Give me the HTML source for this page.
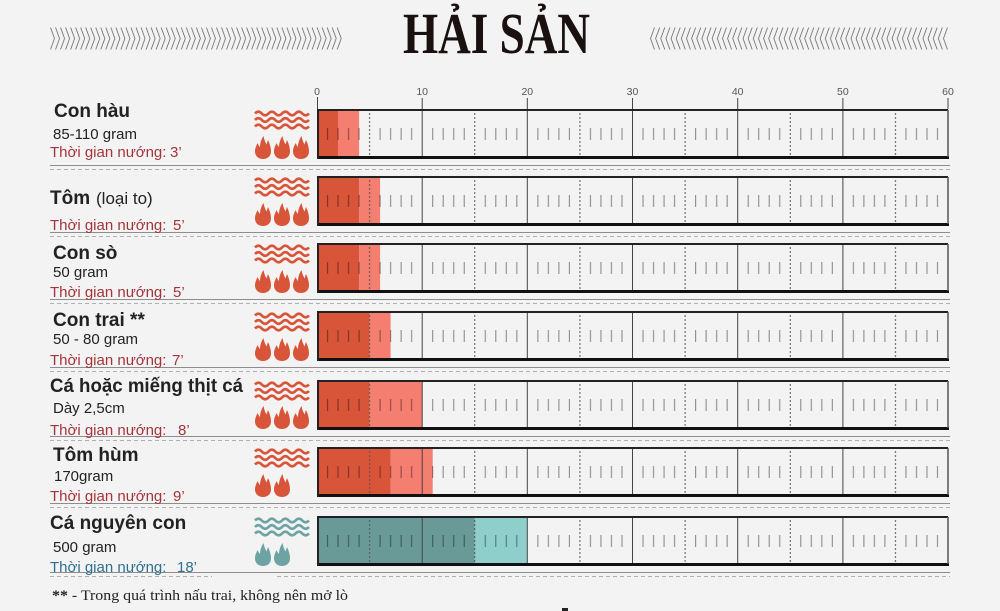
<!DOCTYPE html>
<html>
<head>
<meta charset="utf-8">
<style>
html,body{margin:0;padding:0;background:#f3f3f3;}
svg{display:block;}
.t{font-family:"Liberation Sans",sans-serif;font-weight:bold;font-size:19px;fill:#222;}
.s{font-family:"Liberation Sans",sans-serif;font-size:15px;fill:#222;}
.r{font-family:"Liberation Sans",sans-serif;font-size:15px;fill:#a3343c;}
.b{font-family:"Liberation Sans",sans-serif;font-size:15px;fill:#2f6f8f;}
.ax{font-family:"Liberation Sans",sans-serif;font-size:10.5px;fill:#555;}
</style>
</head>
<body>
<svg width="1000" height="611" viewBox="0 0 1000 611" xmlns="http://www.w3.org/2000/svg">
<defs>
<pattern id="chl" patternUnits="userSpaceOnUse" x="50" y="27" width="5.03" height="23">
<path d="M0.5,0.5L4.5,11.5L0.5,22.5" fill="none" stroke="#666" stroke-width="0.8"/>
</pattern>
<pattern id="chr" patternUnits="userSpaceOnUse" x="650" y="27" width="5.14" height="23">
<path d="M4.5,0.5L0.5,11.5L4.5,22.5" fill="none" stroke="#666" stroke-width="0.8"/>
</pattern>
<pattern id="tk" patternUnits="userSpaceOnUse" x="317" y="0" width="52.585" height="10">
<path d="M10.517,0V10M21.034,0V10M31.551,0V10M42.068,0V10" stroke="rgba(0,0,0,0.42)" stroke-width="1.1"/>
</pattern>
<pattern id="dl" patternUnits="userSpaceOnUse" x="317" y="0" width="105.17" height="4">
<path d="M52.585,0V2" stroke="#555" stroke-width="1"/>
</pattern>
</defs>

<rect x="0" y="0" width="1000" height="611" fill="#f3f3f3"/>

<!-- Header -->
<rect x="50" y="27" width="292" height="23" fill="url(#chl)"/>
<rect x="650" y="27" width="298" height="23" fill="url(#chr)"/>
<text x="403" y="53" font-family="'Liberation Serif',serif" font-weight="bold" font-size="58" fill="#1a1010" textLength="187" lengthAdjust="spacingAndGlyphs">HẢI SẢN</text>

<!-- Axis -->
<g class="ax" text-anchor="middle">
<text x="317" y="95">0</text>
<text x="422.2" y="95">10</text>
<text x="527.3" y="95">20</text>
<text x="632.5" y="95">30</text>
<text x="737.7" y="95">40</text>
<text x="842.9" y="95">50</text>
<text x="948" y="95">60</text>
</g>
<path d="M317.5,97V109M422.2,98V109M527.3,98V109M632.5,98V109M737.7,98V109M842.9,98V109M948,98V109" stroke="#444" stroke-width="1"/>

<!-- Row 1 -->
<g transform="translate(0,109)">
<rect x="317" y="0" width="21" height="50" fill="#d8553a"/>
<rect x="338" y="0" width="21.1" height="50" fill="#f47e70"/>
<rect x="317" y="19" width="631" height="12" fill="url(#tk)"/>
<rect x="317" y="2" width="631" height="46" fill="url(#dl)"/>
<path d="M422.2,0V50M527.3,0V50M632.5,0V50M737.7,0V50M842.9,0V50" stroke="#444" stroke-width="1"/>
<path d="M317,1H948" stroke="#222" stroke-width="2"/>
<path d="M317,48.5H949" stroke="#111" stroke-width="3"/>
<path d="M318,0V50" stroke="#222" stroke-width="2"/>
<path d="M948,1V48" stroke="#555" stroke-width="1.5"/>
<path d="M50,56.5H950" stroke="#8d8d8d" stroke-width="1"/>
<path d="M50,60.5H950" stroke="#b0b0b0" stroke-width="1" stroke-dasharray="4 3"/>
<path d="M255,4.5q3.375,-3.6 6.75,0t6.75,0t6.75,0t6.75,0t6.75,0t6.75,0t6.75,0t6.75,0M255,11q3.375,-3.6 6.75,0t6.75,0t6.75,0t6.75,0t6.75,0t6.75,0t6.75,0t6.75,0M255,17.5q3.375,-3.6 6.75,0t6.75,0t6.75,0t6.75,0t6.75,0t6.75,0t6.75,0t6.75,0" fill="none" stroke="#d8553a" stroke-width="2.6"/>
<g fill="#d8553a">
<path transform="translate(255,27)" d="M8,23C3.5,23 0,20 0,15.5C0,12 1.5,9.5 2.5,7C3.5,9 4,10 5,11C5,7 6.5,3 8.5,0C9,3.5 10.5,6.5 11.5,8.5C12,7 12.5,5.5 13,4C15,8 16,12 16,15.5C16,20 12.5,23 8,23Z"/>
<path transform="translate(274,27)" d="M8,23C3.5,23 0,20 0,15.5C0,12 1.5,9.5 2.5,7C3.5,9 4,10 5,11C5,7 6.5,3 8.5,0C9,3.5 10.5,6.5 11.5,8.5C12,7 12.5,5.5 13,4C15,8 16,12 16,15.5C16,20 12.5,23 8,23Z"/>
<path transform="translate(293,27)" d="M8,23C3.5,23 0,20 0,15.5C0,12 1.5,9.5 2.5,7C3.5,9 4,10 5,11C5,7 6.5,3 8.5,0C9,3.5 10.5,6.5 11.5,8.5C12,7 12.5,5.5 13,4C15,8 16,12 16,15.5C16,20 12.5,23 8,23Z"/>
</g>
</g>
<text class="t" x="54" y="117">Con hàu</text>
<text class="s" x="53" y="139">85-110 gram</text>
<text class="r" x="50" y="157">Thời gian nướng:</text>
<text class="r" x="170" y="157">3’</text>

<!-- Row 2 -->
<g transform="translate(0,176)">
<rect x="317" y="0" width="42.1" height="50" fill="#d8553a"/>
<rect x="359.1" y="0" width="21" height="50" fill="#f47e70"/>
<rect x="317" y="19" width="631" height="12" fill="url(#tk)"/>
<rect x="317" y="2" width="631" height="46" fill="url(#dl)"/>
<path d="M422.2,0V50M527.3,0V50M632.5,0V50M737.7,0V50M842.9,0V50" stroke="#444" stroke-width="1"/>
<path d="M317,1H948" stroke="#222" stroke-width="2"/>
<path d="M317,48.5H949" stroke="#111" stroke-width="3"/>
<path d="M318,0V50" stroke="#222" stroke-width="2"/>
<path d="M948,1V48" stroke="#555" stroke-width="1.5"/>
<path d="M50,56.5H950" stroke="#8d8d8d" stroke-width="1"/>
<path d="M50,60.5H950" stroke="#b0b0b0" stroke-width="1" stroke-dasharray="4 3"/>
<path d="M255,4.5q3.375,-3.6 6.75,0t6.75,0t6.75,0t6.75,0t6.75,0t6.75,0t6.75,0t6.75,0M255,11q3.375,-3.6 6.75,0t6.75,0t6.75,0t6.75,0t6.75,0t6.75,0t6.75,0t6.75,0M255,17.5q3.375,-3.6 6.75,0t6.75,0t6.75,0t6.75,0t6.75,0t6.75,0t6.75,0t6.75,0" fill="none" stroke="#d8553a" stroke-width="2.6"/>
<g fill="#d8553a">
<path transform="translate(255,27)" d="M8,23C3.5,23 0,20 0,15.5C0,12 1.5,9.5 2.5,7C3.5,9 4,10 5,11C5,7 6.5,3 8.5,0C9,3.5 10.5,6.5 11.5,8.5C12,7 12.5,5.5 13,4C15,8 16,12 16,15.5C16,20 12.5,23 8,23Z"/>
<path transform="translate(274,27)" d="M8,23C3.5,23 0,20 0,15.5C0,12 1.5,9.5 2.5,7C3.5,9 4,10 5,11C5,7 6.5,3 8.5,0C9,3.5 10.5,6.5 11.5,8.5C12,7 12.5,5.5 13,4C15,8 16,12 16,15.5C16,20 12.5,23 8,23Z"/>
<path transform="translate(293,27)" d="M8,23C3.5,23 0,20 0,15.5C0,12 1.5,9.5 2.5,7C3.5,9 4,10 5,11C5,7 6.5,3 8.5,0C9,3.5 10.5,6.5 11.5,8.5C12,7 12.5,5.5 13,4C15,8 16,12 16,15.5C16,20 12.5,23 8,23Z"/>
</g>
</g>
<text class="t" x="50" y="204">Tôm</text>
<text class="s" x="96" y="204" style="font-size:17px">(loại to)</text>
<text class="r" x="50" y="230">Thời gian nướng:</text>
<text class="r" x="173" y="230">5’</text>

<!-- Row 3 -->
<g transform="translate(0,243)">
<rect x="317" y="0" width="42.1" height="50" fill="#d8553a"/>
<rect x="359.1" y="0" width="21" height="50" fill="#f47e70"/>
<rect x="317" y="19" width="631" height="12" fill="url(#tk)"/>
<rect x="317" y="2" width="631" height="46" fill="url(#dl)"/>
<path d="M422.2,0V50M527.3,0V50M632.5,0V50M737.7,0V50M842.9,0V50" stroke="#444" stroke-width="1"/>
<path d="M317,1H948" stroke="#222" stroke-width="2"/>
<path d="M317,48.5H949" stroke="#111" stroke-width="3"/>
<path d="M318,0V50" stroke="#222" stroke-width="2"/>
<path d="M948,1V48" stroke="#555" stroke-width="1.5"/>
<path d="M50,56.5H950" stroke="#8d8d8d" stroke-width="1"/>
<path d="M50,60.5H950" stroke="#b0b0b0" stroke-width="1" stroke-dasharray="4 3"/>
<path d="M255,4.5q3.375,-3.6 6.75,0t6.75,0t6.75,0t6.75,0t6.75,0t6.75,0t6.75,0t6.75,0M255,11q3.375,-3.6 6.75,0t6.75,0t6.75,0t6.75,0t6.75,0t6.75,0t6.75,0t6.75,0M255,17.5q3.375,-3.6 6.75,0t6.75,0t6.75,0t6.75,0t6.75,0t6.75,0t6.75,0t6.75,0" fill="none" stroke="#d8553a" stroke-width="2.6"/>
<g fill="#d8553a">
<path transform="translate(255,27)" d="M8,23C3.5,23 0,20 0,15.5C0,12 1.5,9.5 2.5,7C3.5,9 4,10 5,11C5,7 6.5,3 8.5,0C9,3.5 10.5,6.5 11.5,8.5C12,7 12.5,5.5 13,4C15,8 16,12 16,15.5C16,20 12.5,23 8,23Z"/>
<path transform="translate(274,27)" d="M8,23C3.5,23 0,20 0,15.5C0,12 1.5,9.5 2.5,7C3.5,9 4,10 5,11C5,7 6.5,3 8.5,0C9,3.5 10.5,6.5 11.5,8.5C12,7 12.5,5.5 13,4C15,8 16,12 16,15.5C16,20 12.5,23 8,23Z"/>
<path transform="translate(293,27)" d="M8,23C3.5,23 0,20 0,15.5C0,12 1.5,9.5 2.5,7C3.5,9 4,10 5,11C5,7 6.5,3 8.5,0C9,3.5 10.5,6.5 11.5,8.5C12,7 12.5,5.5 13,4C15,8 16,12 16,15.5C16,20 12.5,23 8,23Z"/>
</g>
</g>
<text class="t" x="53" y="259">Con sò</text>
<text class="s" x="53" y="277">50 gram</text>
<text class="r" x="50" y="297">Thời gian nướng:</text>
<text class="r" x="173" y="297">5’</text>

<!-- Row 4 -->
<g transform="translate(0,311)">
<rect x="317" y="0" width="52.6" height="50" fill="#d8553a"/>
<rect x="369.6" y="0" width="21" height="50" fill="#f47e70"/>
<rect x="317" y="19" width="631" height="12" fill="url(#tk)"/>
<rect x="317" y="2" width="631" height="46" fill="url(#dl)"/>
<path d="M422.2,0V50M527.3,0V50M632.5,0V50M737.7,0V50M842.9,0V50" stroke="#444" stroke-width="1"/>
<path d="M317,1H948" stroke="#222" stroke-width="2"/>
<path d="M317,48.5H949" stroke="#111" stroke-width="3"/>
<path d="M318,0V50" stroke="#222" stroke-width="2"/>
<path d="M948,1V48" stroke="#555" stroke-width="1.5"/>
<path d="M50,56.5H950" stroke="#8d8d8d" stroke-width="1"/>
<path d="M50,60.5H950" stroke="#b0b0b0" stroke-width="1" stroke-dasharray="4 3"/>
<path d="M255,4.5q3.375,-3.6 6.75,0t6.75,0t6.75,0t6.75,0t6.75,0t6.75,0t6.75,0t6.75,0M255,11q3.375,-3.6 6.75,0t6.75,0t6.75,0t6.75,0t6.75,0t6.75,0t6.75,0t6.75,0M255,17.5q3.375,-3.6 6.75,0t6.75,0t6.75,0t6.75,0t6.75,0t6.75,0t6.75,0t6.75,0" fill="none" stroke="#d8553a" stroke-width="2.6"/>
<g fill="#d8553a">
<path transform="translate(255,27)" d="M8,23C3.5,23 0,20 0,15.5C0,12 1.5,9.5 2.5,7C3.5,9 4,10 5,11C5,7 6.5,3 8.5,0C9,3.5 10.5,6.5 11.5,8.5C12,7 12.5,5.5 13,4C15,8 16,12 16,15.5C16,20 12.5,23 8,23Z"/>
<path transform="translate(274,27)" d="M8,23C3.5,23 0,20 0,15.5C0,12 1.5,9.5 2.5,7C3.5,9 4,10 5,11C5,7 6.5,3 8.5,0C9,3.5 10.5,6.5 11.5,8.5C12,7 12.5,5.5 13,4C15,8 16,12 16,15.5C16,20 12.5,23 8,23Z"/>
<path transform="translate(293,27)" d="M8,23C3.5,23 0,20 0,15.5C0,12 1.5,9.5 2.5,7C3.5,9 4,10 5,11C5,7 6.5,3 8.5,0C9,3.5 10.5,6.5 11.5,8.5C12,7 12.5,5.5 13,4C15,8 16,12 16,15.5C16,20 12.5,23 8,23Z"/>
</g>
</g>
<text class="t" x="53" y="326">Con trai **</text>
<text class="s" x="53" y="344">50 - 80 gram</text>
<text class="r" x="50" y="365">Thời gian nướng:</text>
<text class="r" x="172" y="365">7’</text>

<!-- Row 5 -->
<g transform="translate(0,380)">
<rect x="317" y="0" width="52.6" height="50" fill="#d8553a"/>
<rect x="369.6" y="0" width="52.6" height="50" fill="#f47e70"/>
<rect x="317" y="19" width="631" height="12" fill="url(#tk)"/>
<rect x="317" y="2" width="631" height="46" fill="url(#dl)"/>
<path d="M422.2,0V50M527.3,0V50M632.5,0V50M737.7,0V50M842.9,0V50" stroke="#444" stroke-width="1"/>
<path d="M317,1H948" stroke="#222" stroke-width="2"/>
<path d="M317,48.5H949" stroke="#111" stroke-width="3"/>
<path d="M318,0V50" stroke="#222" stroke-width="2"/>
<path d="M948,1V48" stroke="#555" stroke-width="1.5"/>
<path d="M50,56.5H950" stroke="#8d8d8d" stroke-width="1"/>
<path d="M50,60.5H950" stroke="#b0b0b0" stroke-width="1" stroke-dasharray="4 3"/>
<path d="M255,4.5q3.375,-3.6 6.75,0t6.75,0t6.75,0t6.75,0t6.75,0t6.75,0t6.75,0t6.75,0M255,11q3.375,-3.6 6.75,0t6.75,0t6.75,0t6.75,0t6.75,0t6.75,0t6.75,0t6.75,0M255,17.5q3.375,-3.6 6.75,0t6.75,0t6.75,0t6.75,0t6.75,0t6.75,0t6.75,0t6.75,0" fill="none" stroke="#d8553a" stroke-width="2.6"/>
<g fill="#d8553a">
<path transform="translate(255,26)" d="M8,23C3.5,23 0,20 0,15.5C0,12 1.5,9.5 2.5,7C3.5,9 4,10 5,11C5,7 6.5,3 8.5,0C9,3.5 10.5,6.5 11.5,8.5C12,7 12.5,5.5 13,4C15,8 16,12 16,15.5C16,20 12.5,23 8,23Z"/>
<path transform="translate(274,26)" d="M8,23C3.5,23 0,20 0,15.5C0,12 1.5,9.5 2.5,7C3.5,9 4,10 5,11C5,7 6.5,3 8.5,0C9,3.5 10.5,6.5 11.5,8.5C12,7 12.5,5.5 13,4C15,8 16,12 16,15.5C16,20 12.5,23 8,23Z"/>
<path transform="translate(293,26)" d="M8,23C3.5,23 0,20 0,15.5C0,12 1.5,9.5 2.5,7C3.5,9 4,10 5,11C5,7 6.5,3 8.5,0C9,3.5 10.5,6.5 11.5,8.5C12,7 12.5,5.5 13,4C15,8 16,12 16,15.5C16,20 12.5,23 8,23Z"/>
</g>
</g>
<text class="t" x="50" y="392" textLength="193" lengthAdjust="spacingAndGlyphs">Cá hoặc miếng thịt cá</text>
<text class="s" x="53" y="413">Dày 2,5cm</text>
<text class="r" x="50" y="435">Thời gian nướng:</text>
<text class="r" x="178" y="435">8’</text>

<!-- Row 6 -->
<g transform="translate(0,447)">
<rect x="317" y="0" width="73.6" height="50" fill="#d8553a"/>
<rect x="390.6" y="0" width="42.1" height="50" fill="#f47e70"/>
<rect x="317" y="19" width="631" height="12" fill="url(#tk)"/>
<rect x="317" y="2" width="631" height="46" fill="url(#dl)"/>
<path d="M422.2,0V50M527.3,0V50M632.5,0V50M737.7,0V50M842.9,0V50" stroke="#444" stroke-width="1"/>
<path d="M317,1H948" stroke="#222" stroke-width="2"/>
<path d="M317,48.5H949" stroke="#111" stroke-width="3"/>
<path d="M318,0V50" stroke="#222" stroke-width="2"/>
<path d="M948,1V48" stroke="#555" stroke-width="1.5"/>
<path d="M50,56.5H950" stroke="#8d8d8d" stroke-width="1"/>
<path d="M50,60.5H950" stroke="#b0b0b0" stroke-width="1" stroke-dasharray="4 3"/>
<path d="M255,4.5q3.375,-3.6 6.75,0t6.75,0t6.75,0t6.75,0t6.75,0t6.75,0t6.75,0t6.75,0M255,11q3.375,-3.6 6.75,0t6.75,0t6.75,0t6.75,0t6.75,0t6.75,0t6.75,0t6.75,0M255,17.5q3.375,-3.6 6.75,0t6.75,0t6.75,0t6.75,0t6.75,0t6.75,0t6.75,0t6.75,0" fill="none" stroke="#d8553a" stroke-width="2.6"/>
<g fill="#d8553a">
<path transform="translate(255,27)" d="M8,23C3.5,23 0,20 0,15.5C0,12 1.5,9.5 2.5,7C3.5,9 4,10 5,11C5,7 6.5,3 8.5,0C9,3.5 10.5,6.5 11.5,8.5C12,7 12.5,5.5 13,4C15,8 16,12 16,15.5C16,20 12.5,23 8,23Z"/>
<path transform="translate(274,27)" d="M8,23C3.5,23 0,20 0,15.5C0,12 1.5,9.5 2.5,7C3.5,9 4,10 5,11C5,7 6.5,3 8.5,0C9,3.5 10.5,6.5 11.5,8.5C12,7 12.5,5.5 13,4C15,8 16,12 16,15.5C16,20 12.5,23 8,23Z"/>
</g>
</g>
<text class="t" x="53" y="461">Tôm hùm</text>
<text class="s" x="54" y="481">170gram</text>
<text class="r" x="50" y="501">Thời gian nướng:</text>
<text class="r" x="173" y="501">9’</text>

<!-- Row 7 -->
<g transform="translate(0,516)">
<rect x="317" y="0" width="157.8" height="50" fill="#699a98"/>
<rect x="474.8" y="0" width="52.5" height="50" fill="#8ecfcb"/>
<rect x="317" y="19" width="631" height="12" fill="url(#tk)"/>
<rect x="317" y="2" width="631" height="46" fill="url(#dl)"/>
<path d="M422.2,0V50M527.3,0V50M632.5,0V50M737.7,0V50M842.9,0V50" stroke="#444" stroke-width="1"/>
<path d="M317,1H948" stroke="#222" stroke-width="2"/>
<path d="M317,48.5H949" stroke="#111" stroke-width="3"/>
<path d="M318,0V50" stroke="#222" stroke-width="2"/>
<path d="M948,1V48" stroke="#555" stroke-width="1.5"/>
<path d="M50,56.5H950" stroke="#8d8d8d" stroke-width="1"/>
<path d="M50,60.5H212M277,60.5H950" stroke="#b0b0b0" stroke-width="1" stroke-dasharray="4 3"/>
<path d="M255,4.5q3.375,-3.6 6.75,0t6.75,0t6.75,0t6.75,0t6.75,0t6.75,0t6.75,0t6.75,0M255,11q3.375,-3.6 6.75,0t6.75,0t6.75,0t6.75,0t6.75,0t6.75,0t6.75,0t6.75,0M255,17.5q3.375,-3.6 6.75,0t6.75,0t6.75,0t6.75,0t6.75,0t6.75,0t6.75,0t6.75,0" fill="none" stroke="#6ea3a3" stroke-width="2.6"/>
<g fill="#6ea3a3">
<path transform="translate(255,27)" d="M8,23C3.5,23 0,20 0,15.5C0,12 1.5,9.5 2.5,7C3.5,9 4,10 5,11C5,7 6.5,3 8.5,0C9,3.5 10.5,6.5 11.5,8.5C12,7 12.5,5.5 13,4C15,8 16,12 16,15.5C16,20 12.5,23 8,23Z"/>
<path transform="translate(274,27)" d="M8,23C3.5,23 0,20 0,15.5C0,12 1.5,9.5 2.5,7C3.5,9 4,10 5,11C5,7 6.5,3 8.5,0C9,3.5 10.5,6.5 11.5,8.5C12,7 12.5,5.5 13,4C15,8 16,12 16,15.5C16,20 12.5,23 8,23Z"/>
</g>
</g>
<text class="t" x="50" y="529">Cá nguyên con</text>
<text class="s" x="53" y="552">500 gram</text>
<text class="b" x="50" y="572">Thời gian nướng:</text>
<text class="b" x="177" y="572">18’</text>

<!-- Footer -->
<text x="52" y="600" font-family="'Liberation Serif',serif" font-size="15" fill="#222" textLength="296" lengthAdjust="spacingAndGlyphs"><tspan font-weight="bold">**</tspan> - Trong quá trình nấu trai, không nên mở lò</text>
<rect x="562" y="608" width="6" height="3" fill="#222"/>
</svg>
</body>
</html>
